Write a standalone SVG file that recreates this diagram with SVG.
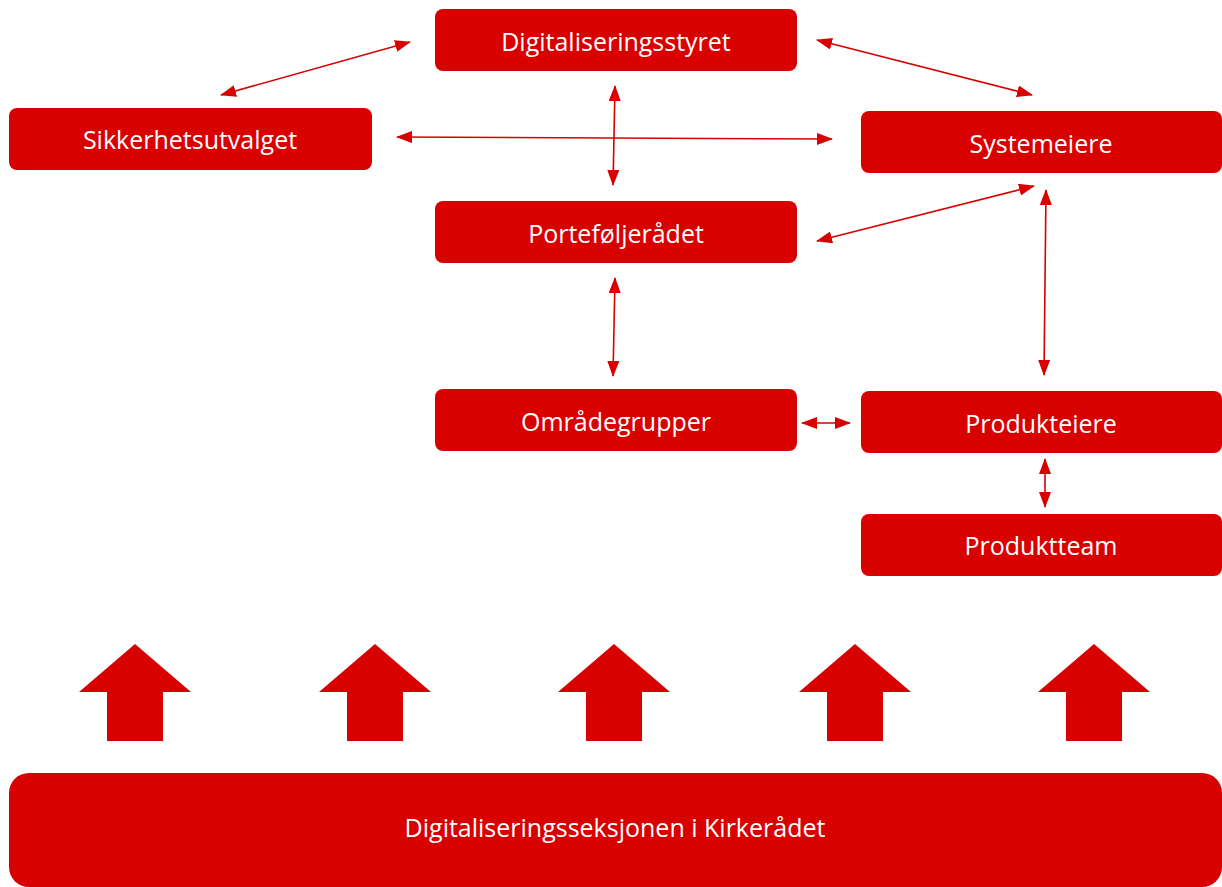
<svg xmlns="http://www.w3.org/2000/svg" width="1222" height="887" viewBox="0 0 1222 887">
<style>
.box{fill:#d90000}
.lbl{fill:#ffffff;font-family:"Open Sans","Noto Sans",sans-serif;font-size:25px;text-anchor:middle;dominant-baseline:central}
.con{stroke:#d90000;stroke-width:1.6;fill:none;marker-start:url(#ah);marker-end:url(#ah)}
.up{fill:#d90000}
</style>
<defs>
<marker id="ah" viewBox="0 0 16 12" refX="15" refY="6" markerWidth="16" markerHeight="12" markerUnits="userSpaceOnUse" orient="auto-start-reverse">
<path d="M0,0 L16,6 L0,12 Z" fill="#d90000"/>
</marker>
</defs>
<rect width="1222" height="887" fill="#ffffff"/>
<g id="connectors">
<line class="con" x1="221" y1="95" x2="410" y2="42"/>
<line class="con" x1="817" y1="40" x2="1032" y2="95"/>
<line class="con" x1="397" y1="137" x2="832" y2="139"/>
<line class="con" x1="615" y1="86" x2="613" y2="185"/>
<line class="con" x1="817" y1="241" x2="1034" y2="186"/>
<line class="con" x1="615" y1="278" x2="613" y2="376"/>
<line class="con" x1="1046" y1="190" x2="1044" y2="375"/>
<line class="con" x1="802" y1="423" x2="850" y2="423"/>
<line class="con" x1="1045" y1="459" x2="1045" y2="507"/>
</g>
<g id="n-styret"><rect class="box" x="435" y="9" width="362" height="62" rx="8"/><text class="lbl" x="616" y="41">Digitaliseringsstyret</text></g>
<g id="n-sikkerhet"><rect class="box" x="9" y="108" width="363" height="62" rx="8"/><text class="lbl" x="190" y="139">Sikkerhetsutvalget</text></g>
<g id="n-system"><rect class="box" x="861" y="111" width="361" height="62" rx="8"/><text class="lbl" x="1041" y="143">Systemeiere</text></g>
<g id="n-portefolje"><rect class="box" x="435" y="201" width="362" height="62" rx="8"/><text class="lbl" x="616" y="233">Porteføljerådet</text></g>
<g id="n-omrade"><rect class="box" x="435" y="389" width="362" height="62" rx="8"/><text class="lbl" x="616" y="421">Områdegrupper</text></g>
<g id="n-produkteiere"><rect class="box" x="861" y="391" width="361" height="62" rx="8"/><text class="lbl" x="1041" y="423">Produkteiere</text></g>
<g id="n-produktteam"><rect class="box" x="861" y="514" width="361" height="62" rx="8"/><text class="lbl" x="1041" y="545">Produktteam</text></g>
<g id="up-arrows">
<path class="up" d="M135,644 L191,692 L163,692 L163,741 L107,741 L107,692 L79,692 Z"/>
<path class="up" d="M375,644 L431,692 L403,692 L403,741 L347,741 L347,692 L319,692 Z"/>
<path class="up" d="M614,644 L670,692 L642,692 L642,741 L586,741 L586,692 L558,692 Z"/>
<path class="up" d="M855,644 L911,692 L883,692 L883,741 L827,741 L827,692 L799,692 Z"/>
<path class="up" d="M1094,644 L1150,692 L1122,692 L1122,741 L1066,741 L1066,692 L1038,692 Z"/>
</g>
<g id="n-seksjon"><rect class="box" x="9" y="773" width="1213" height="114" rx="20"/><text class="lbl" x="615" y="827">Digitaliseringsseksjonen i Kirkerådet</text></g>
</svg>
